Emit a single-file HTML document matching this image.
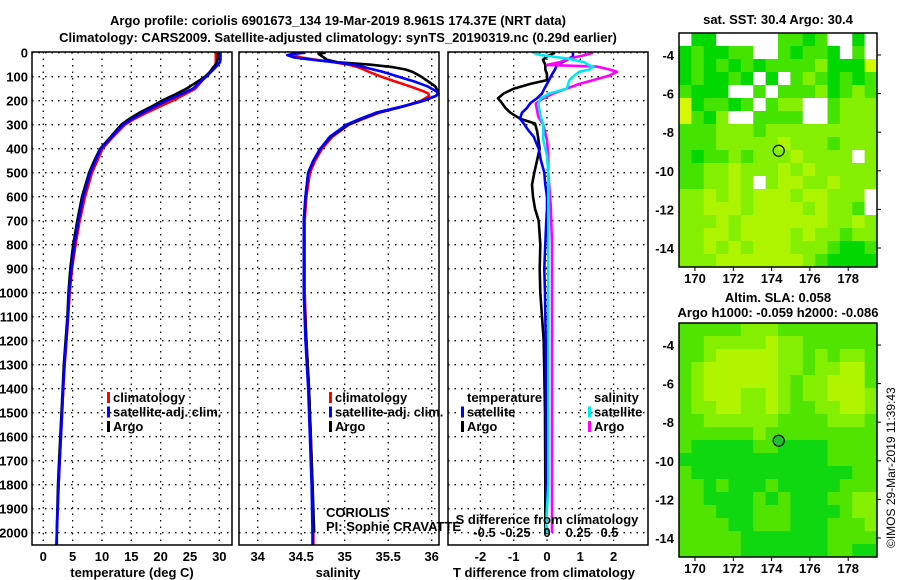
<!DOCTYPE html>
<html><head><meta charset="utf-8"><style>
body{margin:0;background:#fff}
svg{display:block;font-family:"Liberation Sans",Arial,sans-serif}
.b{font-weight:bold;font-size:13px}
</style></head><body>
<svg id="s" width="900" height="580" viewBox="0 0 900 580">
<rect width="900" height="580" fill="#fff"/>
<text class="b" x="338" y="25" text-anchor="middle" font-size="14">Argo profile: coriolis 6901673_134 19-Mar-2019 8.961S 174.37E (NRT data)</text>
<text class="b" x="338" y="42" text-anchor="middle" font-size="14">Climatology: CARS2009. Satellite-adjusted climatology: synTS_20190319.nc (0.29d earlier)</text>
<text class="b" x="778" y="24" text-anchor="middle">sat. SST: 30.4 Argo: 30.4</text>
<text class="b" x="778" y="302" text-anchor="middle">Altim. SLA: 0.058</text>
<text class="b" x="778" y="317" text-anchor="middle">Argo h1000: -0.059 h2000: -0.086</text>
<text x="895" y="548" font-size="12" transform="rotate(-90 895 548)">©IMOS 29-Mar-2019 11:39:43</text>
<g id="g"></g>
</svg>
<script>
// temperature profiles
const tDepth=[0,10,20,30,40,50,60,80,100,125,150,175,200,225,250,275,300,350,400,450,500,600,700,800,900,1000,1100,1200,1300,1400,1500,1600,1700,1800,1900,2000,2050];
const tClim=[29.4,29.4,29.4,29.4,29.4,29.3,29.2,28.5,27.6,26.8,25.9,24.0,22.0,19.8,17.6,15.6,13.9,11.9,10.1,9.2,8.3,7.1,6.2,5.5,4.9,4.5,4.25,3.95,3.65,3.4,3.2,3.0,2.8,2.6,2.45,2.3,2.2];
const tSat=[30.2,30.2,30.2,30.2,30.1,29.8,29.4,28.6,27.8,26.6,25.5,23.3,21.0,19.0,17.0,15.2,13.6,11.7,9.8,8.9,8.0,6.8,6.0,5.3,4.8,4.4,4.2,3.9,3.6,3.4,3.2,3.0,2.8,2.6,2.45,2.3,2.3];
const tArgo=[29.8,29.8,29.8,29.7,29.6,29.4,29.0,28.4,27.6,26.0,24.4,22.4,20.2,18.4,16.4,14.7,13.3,11.5,9.7,8.7,7.8,6.6,5.8,5.1,4.6,4.3,4.1,3.8,3.5,3.3,3.1,2.9,2.7,2.5,2.4,2.3,null];
// salinity profiles
const sDepth=[0,5,10,20,30,40,50,60,70,80,100,120,140,160,170,180,200,225,250,275,300,350,400,450,500,600,700,800,1000,1200,1400,1600,1800,2000,2050];
const sClim=[34.45,34.42,34.41,34.50,34.68,34.88,35.05,35.15,35.22,35.28,35.42,35.58,35.75,35.90,35.96,35.97,35.88,35.66,35.40,35.22,35.05,34.86,34.74,34.66,34.60,34.56,34.54,34.54,34.54,34.56,34.59,34.61,34.63,34.64,34.64];
const sSat=[34.55,34.40,34.34,34.42,34.65,34.90,35.10,35.22,35.33,35.44,35.62,35.80,35.95,36.05,36.08,36.05,35.90,35.65,35.36,35.18,35.02,34.83,34.72,34.64,34.58,34.55,34.53,34.53,34.53,34.55,34.58,34.60,34.62,34.63,34.63];
const sArgo=[34.78,34.70,34.72,34.76,34.80,34.92,35.30,35.55,35.70,35.78,35.88,35.96,36.04,36.07,36.07,36.05,35.91,35.66,35.38,35.20,35.04,34.84,34.72,34.64,34.58,34.55,34.53,34.53,34.53,34.56,34.59,34.61,34.63,34.65,null];
// differences from climatology
const tdDepth=[0,15,30,50,70,90,114,130,150,170,190,210,230,250,275,295,325,350,400,450,500,550,600,650,700,800,900,1000,1200,1500,1800,2000];
const tdArgo=[0.24,0.0,-0.12,-0.05,-0.05,0.0,0.0,-0.5,-1.0,-1.3,-1.47,-1.35,-1.25,-1.1,-0.81,-0.36,-0.3,-0.27,-0.22,-0.3,-0.38,-0.45,-0.42,-0.36,-0.25,-0.2,-0.22,-0.2,-0.1,-0.06,-0.05,-0.05];
const tdSat=[0.78,0.78,0.6,0.3,0.24,0.15,0.06,0.0,-0.08,-0.15,-0.3,-0.5,-0.6,-0.75,-0.81,-0.7,-0.55,-0.4,-0.25,-0.18,-0.08,-0.05,0.0,0.0,-0.02,-0.05,-0.08,-0.06,-0.04,-0.03,-0.02,-0.02];
const sdDepth=[0,10,24,40,51,58,70,79,95,114,130,149,170,191,212,240,267,300,364,430,503,642,800,1000,1200,1500,1800,2000];
const sdArgo=[0.37,0.3,0.18,0.1,0.0,0.4,0.5,0.56,0.5,0.37,0.26,0.16,0.05,-0.03,-0.09,-0.08,-0.07,-0.03,0.0,0.01,0.01,0.03,0.04,0.04,0.04,0.04,0.04,0.04];
const sdSat=[-0.11,-0.05,0.16,0.3,0.33,0.37,0.34,0.26,0.22,0.18,0.17,0.16,0.02,-0.05,-0.07,-0.06,-0.05,-0.03,-0.03,0.0,0.01,0.01,0.01,0.01,0.01,0.01,0.01,-0.01];
// ticks
const depthTicks=[0,100,200,300,400,500,600,700,800,900,1000,1100,1200,1300,1400,1500,1600,1700,1800,1900,2000];
const tTicks=[0,5,10,15,20,25,30];
const sTicks=[34,34.5,35,35.5,36];
const sTickLabels=["34","34.5","35","35.5","36"];
const tdTicks=[-2,-1,0,1,2];
const sdTicks=[-0.5,-0.25,0,0.25,0.5];
const sdTickLabels=["-0.5","-0.25","0","0.25","0.5"];
const lonTicks=[170,172,174,176,178];
const latTicks=[-4,-6,-8,-10,-12,-14];
const argoLon=174.37, argoLat=-8.961;
// map grids (colour levels, 0 = no data)
const sstGrid=["0110000022120010","1211220021221020","1212121222231115","1211210102321212","2111002022231232","5122120233002333","5213002222002333","2223332333333333","2223333343332333","2122323334333303","2233433343433333","2233430344334333","3343434443443330","3344434444343320","3334344444443343","3344344443433233","3343434443332112","3334444444321111"];
const slaGrid=["2222233322222222","2233333433222222","2234444433232332","2344444433233442","2344444432334442","2344433432334443","2334433432233443","2233333322223332","2222223222222222","2111112211112222","1111111111112222","2111111111111122","2212111211111222","2211112121112233","2221112221111233","2222112221112223","2222211111112222","2222211111112211"];
const sstPalette=["#ffffff","#00d800","#44e400","#84f000","#aef400","#d4f800","#f0c000"];
const slaPalette=["#ffffff","#10d810","#50e400","#84f000","#b0f400"];

const NS="http://www.w3.org/2000/svg";
const g=document.getElementById('g');
function mk(tag,attrs,parent){const e=document.createElementNS(NS,tag);for(const k in attrs)e.setAttribute(k,attrs[k]);(parent||g).appendChild(e);return e;}
function txt(x,y,s,anchor,cls,parent){const e=mk('text',{x:x,y:y,'text-anchor':anchor||'start','class':cls||'b'},parent);e.textContent=s;return e;}

const yTop=52.7, yPer=0.24, yBot=545;
const Y=d=>yTop+yPer*d;
const XT=v=>43.3+5.867*v;
const XS=v=>257.7+87*(v-34);
const XTD=v=>547+33.3*v;
const XSD=v=>547+125*v;

function panel(x0,x1,name){
  const p=mk('g',{});
  
  
  return p;
}
function hgrid(p,x0,x1){depthTicks.forEach(d=>{const l=mk('line',{x1:x0,x2:x1,y1:Y(d),y2:Y(d),stroke:'#000','stroke-width':1.3,'stroke-dasharray':'1.5,5'},p);});}
function vgrid(p,xs){xs.forEach(x=>{const l=mk('line',{x1:x,x2:x,y1:52,y2:yBot,stroke:'#000','stroke-width':1.3,'stroke-dasharray':'1.5,5'},p);});}
function line(p,depths,vals,X,col,name){
  let d='';let started=false;
  depths.forEach((dp,i)=>{if(vals[i]===null||vals[i]===undefined)return;d+=(started?'L':'M')+X(vals[i]).toFixed(1)+','+Y(dp).toFixed(1);started=true;});
  const e=mk('path',{d:d,fill:'none',stroke:col,'stroke-width':2.6,'stroke-linejoin':'round'},p);
  
  
}
function frame(p,x0,x1){const r=mk('rect',{x:x0,y:52,width:x1-x0,height:yBot-52,fill:'none',stroke:'#000','stroke-width':1.5},p);}
function legend(p,x,items){items.forEach((it,i)=>{const yy=402+i*14.5;const r=mk('rect',{x:x,y:yy-10,width:3,height:11,fill:it[1]},p);const t=txt(x+6,yy,it[0],'start','b',p);});}

// Panel 1 temperature
const p1=panel(32,232,'temperature-panel');
hgrid(p1,32,232);vgrid(p1,tTicks.map(XT));
line(p1,tDepth,tClim,XT,'#ff0000','temperature-climatology-line');
line(p1,tDepth,tArgo,XT,'#000000','temperature-argo-line');
line(p1,tDepth,tSat,XT,'#0000ff','temperature-satellite-line');
frame(p1,32,232);
depthTicks.forEach(d=>{const t=txt(28,Y(d)+5,String(d),'end','b',p1);});
tTicks.forEach(v=>{const t=txt(XT(v),561,String(v),'middle','b',p1);});
{const t=txt(132,577,'temperature (deg C)','middle','b',p1);}
legend(p1,107,[['climatology','#ff0000'],['satellite-adj. clim.','#0000ff'],['Argo','#000']]);

// Panel 2 salinity
const p2=panel(239,439,'salinity-panel');
hgrid(p2,239,439);vgrid(p2,sTicks.map(XS));
line(p2,sDepth,sClim,XS,'#ff0000','salinity-climatology-line');
line(p2,sDepth,sArgo,XS,'#000000','salinity-argo-line');
line(p2,sDepth,sSat,XS,'#0000ff','salinity-satellite-line');
frame(p2,239,439);
sTicks.forEach((v,i)=>{const t=txt(XS(v),561,sTickLabels[i],'middle','b',p2);});
{const t=txt(338,577,'salinity','middle','b',p2);}
legend(p2,329,[['climatology','#ff0000'],['satellite-adj. clim.','#0000ff'],['Argo','#000']]);
{const t=txt(326,517,'CORIOLIS','start','',p2);t.setAttribute('font-size','12');
 const t2=txt(326,531,'PI: Sophie CRAVATTE','start','',p2);t2.setAttribute('font-size','12');}

// Panel 3 differences
const p3=panel(448,648,'difference-panel');
hgrid(p3,448,648);vgrid(p3,tdTicks.map(XTD));
line(p3,tdDepth,tdArgo,XTD,'#000000','temperature-diff-argo-line');
line(p3,tdDepth,tdSat,XTD,'#0000ff','temperature-diff-satellite-line');
line(p3,sdDepth,sdArgo,XSD,'#ff00ff','salinity-diff-argo-line');
line(p3,sdDepth,sdSat,XSD,'#00e8f0','salinity-diff-satellite-line');
frame(p3,448,648);
tdTicks.forEach(v=>{const t=txt(XTD(v),561,String(v),'middle','b',p3);});
sdTicks.forEach((v,i)=>{const t=txt(XSD(v),537,sdTickLabels[i],'middle','b',p3);});
{const t=txt(547,524,'S difference from climatology','middle','b',p3);}
{const t=txt(544,577,'T difference from climatology','middle','b',p3);}
{const t=txt(467,402,'temperature','start','b',p3);
 const t2=txt(594,402,'salinity','start','b',p3);}
[[461,'satellite','#0000ff',1],[461,'Argo','#000',2],[588,'satellite','#00e8f0',1],[588,'Argo','#ff00ff',2]].forEach(it=>{const yy=402+it[3]*14.5;const r=mk('rect',{x:it[0],y:yy-10,width:3,height:11,fill:it[2]},p3);const t=txt(it[0]+6,yy,it[1],'start','b',p3);});

// Maps
function map(y0,grid,pal,name,dotFill){
  const x0=679,x1=877,y1=y0+234;
  const m=mk('g',{});
  
  
  const rows=grid.length,cols=grid[0].length;
  const cw=(x1-x0)/cols,ch=(y1-y0)/rows;
  grid.forEach((row,r)=>{for(let c=0;c<cols;c++){const v=+row[c];const e=mk('rect',{x:(x0+c*cw).toFixed(2),y:(y0+r*ch).toFixed(2),width:(cw+0.4).toFixed(2),height:(ch+0.4).toFixed(2),fill:pal[v]},m);}});
  const LX=lon=>695+19.15*(lon-170);
  const LY=lat=>(y0+22)+19.3*(-4-lat);
  const f=mk('rect',{x:x0,y:y0,width:x1-x0,height:y1-y0,fill:'none',stroke:'#000','stroke-width':1.5},m);
  lonTicks.forEach(v=>{mk('line',{x1:LX(v),x2:LX(v),y1:y1,y2:y1+4,stroke:'#000'},m);const t=txt(LX(v),y1+16,String(v),'middle','b',m);});
  latTicks.forEach(v=>{mk('line',{x1:x1,x2:x1+4,y1:LY(v),y2:LY(v),stroke:'#000'},m);const t=txt(674,LY(v)+5,String(v),'end','b',m);});
  const c=mk('circle',{cx:LX(argoLon),cy:LY(argoLat),r:5.5,fill:dotFill,stroke:'#000','stroke-width':1.2},m);
  
  
}
map(33,sstGrid,sstPalette,'sst-map','none');
map(323,slaGrid,slaPalette,'sla-map','#20c030');
</script>
</body></html>
